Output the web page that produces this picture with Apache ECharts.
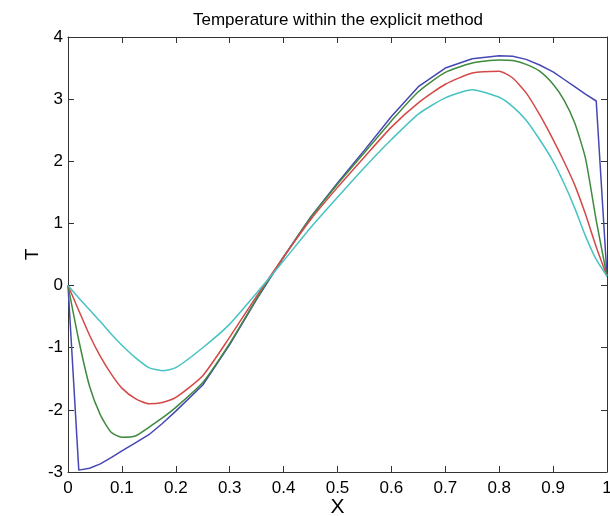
<!DOCTYPE html>
<html>
<head>
<meta charset="utf-8">
<script src="https://cdn.jsdelivr.net/npm/echarts@6/dist/echarts.min.js"></script>
<style>
html,body{margin:0;padding:0;background:#fff;}
#chart{width:610px;height:516px;}
</style>
</head>
<body>
<div id="chart"></div>
<script>
// x positions (shared by all curves)
var xs = [0, 0.02, 0.04, 0.06, 0.08, 0.1, 0.125, 0.15, 0.175, 0.2, 0.25, 0.3, 0.35, 0.4, 0.45, 0.5, 0.55, 0.6, 0.65, 0.7, 0.75, 0.8, 0.825, 0.85, 0.875, 0.9, 0.92, 0.94, 0.96, 0.98, 1.0];

// temperature profiles
var tBlue  = [0, -2.97, -2.94, -2.87, -2.77, -2.66, -2.53, -2.40, -2.22, -2.02, -1.60, -0.95, -0.22, 0.46, 1.10, 1.65, 2.18, 2.72, 3.20, 3.50, 3.65, 3.70, 3.69, 3.64, 3.55, 3.44, 3.32, 3.20, 3.08, 2.97, 0.15];
var tGreen = [0, -0.88, -1.62, -2.08, -2.36, -2.44, -2.42, -2.28, -2.13, -1.96, -1.56, -0.93, -0.21, 0.46, 1.09, 1.63, 2.14, 2.65, 3.12, 3.43, 3.58, 3.63, 3.62, 3.56, 3.45, 3.24, 2.99, 2.62, 2.05, 1.05, 0.15];
var tRed   = [0, -0.40, -0.80, -1.14, -1.42, -1.65, -1.82, -1.90, -1.88, -1.80, -1.45, -0.83, -0.17, 0.46, 1.06, 1.58, 2.07, 2.55, 2.94, 3.24, 3.42, 3.45, 3.34, 3.10, 2.75, 2.35, 2.00, 1.62, 1.15, 0.62, 0.15];
var tCyan  = [0, -0.20, -0.39, -0.58, -0.78, -0.96, -1.16, -1.32, -1.37, -1.32, -1.00, -0.62, -0.12, 0.40, 0.93, 1.42, 1.90, 2.35, 2.76, 3.02, 3.15, 3.03, 2.88, 2.66, 2.35, 2.00, 1.65, 1.25, 0.80, 0.42, 0.15];

var xTicks = { min: 0, max: 1, interval: 0.1 };
var yTicks = { min: -3, max: 4, interval: 1 };

function pairs(ys) { return xs.map(function (x, i) { return [x, ys[i]]; }); }

var FONT = 'Liberation Sans, Arial, sans-serif';
var axisLine = { show: true, onZero: false, lineStyle: { color: '#333', width: 1 } };
var tick = { show: true, inside: true, length: 6, lineStyle: { color: '#333', width: 1 } };

function line(name, ys, color, smooth) {
  return {
    name: name, type: 'line', data: pairs(ys), showSymbol: false, symbol: 'none',
    smooth: smooth,
    lineStyle: { color: color, width: 1.5 }, itemStyle: { color: color },
    animation: false, z: 2
  };
}

var chart = echarts.init(document.getElementById('chart'), null, { renderer: 'canvas' });
chart.setOption({
  backgroundColor: '#fff',
  animation: false,
  title: {
    text: 'Temperature within the explicit method',
    left: 333, textAlign: 'center', top: 7,
    textStyle: { fontFamily: FONT, fontSize: 17, fontWeight: 'normal', color: '#000' }
  },
  grid: { left: 68, right: 3, top: 37, bottom: 44, containLabel: false, outerBoundsMode: 'none' },
  xAxis: [{
    type: 'value', min: xTicks.min, max: xTicks.max, interval: xTicks.interval,
    position: 'bottom',
    name: 'X', nameLocation: 'middle', nameGap: 25, nameMoveOverlap: false,
    nameTextStyle: { fontFamily: FONT, fontSize: 21, color: '#000' },
    axisLine: axisLine, axisTick: tick, splitLine: { show: false },
    axisLabel: { fontFamily: FONT, fontSize: 17, color: '#000', margin: 8 }
  }, {
    type: 'value', min: xTicks.min, max: xTicks.max, interval: xTicks.interval,
    position: 'top',
    axisLine: axisLine, axisTick: tick, splitLine: { show: false },
    axisLabel: { show: false }
  }],
  yAxis: [{
    type: 'value', min: yTicks.min, max: yTicks.max, interval: yTicks.interval,
    position: 'left',
    name: 'T', nameLocation: 'middle', nameGap: 26, nameMoveOverlap: false,
    nameTextStyle: { fontFamily: FONT, fontSize: 19, color: '#000' },
    axisLine: axisLine, axisTick: tick, splitLine: { show: false },
    axisLabel: { fontFamily: FONT, fontSize: 17, color: '#000', margin: 5 }
  }, {
    type: 'value', min: yTicks.min, max: yTicks.max, interval: yTicks.interval,
    position: 'right',
    axisLine: axisLine, axisTick: tick, splitLine: { show: false },
    axisLabel: { show: false }
  }],
  series: [
    line('blue', tBlue, '#4646b4', false),
    line('green', tGreen, '#3f8a3f', 0.2),
    line('red', tRed, '#d44848', 0.2),
    line('cyan', tCyan, '#48c2c2', 0.2)
  ]
});
</script>
</body>
</html>
